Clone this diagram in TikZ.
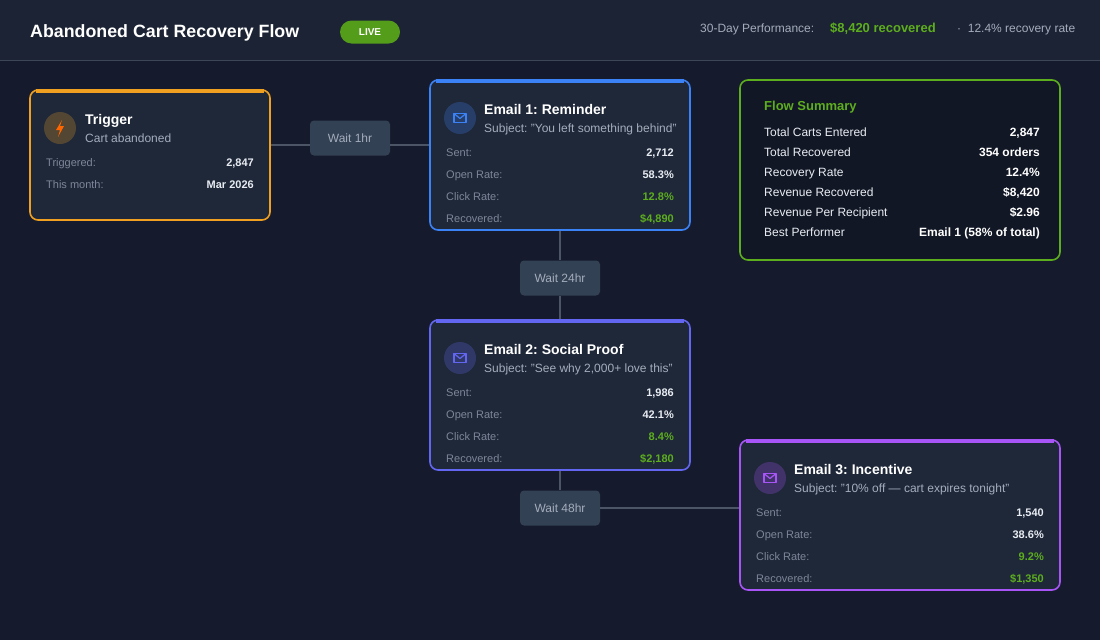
\documentclass[tikz,border=0pt]{standalone}
\usepackage{fontspec}
\setmainfont{Liberation Sans}
\definecolor{bg}{HTML}{151B2C}
\definecolor{hdr}{HTML}{1C2334}
\definecolor{card}{HTML}{1F2839}
\definecolor{lbl}{HTML}{7D8799}
\definecolor{sub}{HTML}{A4ADBC}
\definecolor{val}{HTML}{E8ECF2}
\definecolor{grn}{HTML}{5DAE1E}
\definecolor{orng}{HTML}{F0A020}
\definecolor{blu}{HTML}{3B82F6}
\definecolor{ind}{HTML}{6366F1}
\definecolor{pur}{HTML}{A855F7}
\definecolor{waitc}{HTML}{334155}
\definecolor{conn}{HTML}{4B5566}
\tikzset{
 card/.style={draw=#1,line width=1.6pt,fill=card,rounded corners=8pt},
 topbar/.style={draw=#1,line width=3.5pt},
 wait/.style={fill=waitc,rounded corners=4pt,minimum width=80pt,minimum height=35pt,text=sub,font=\fontsize{12}{14}\selectfont},
 conn/.style={draw=conn,line width=1.5pt},
 ttl/.style={anchor=base west,text=white,font=\bfseries\fontsize{14}{16}\selectfont,inner sep=0},
 sbj/.style={anchor=base west,text=sub,font=\fontsize{12}{14}\selectfont,inner sep=0},
 lb/.style={anchor=base west,text=lbl,font=\fontsize{11}{13}\selectfont,inner sep=0},
 vl/.style={anchor=base east,text=val,font=\bfseries\fontsize{11}{13}\selectfont,inner sep=0},
 vg/.style={anchor=base east,text=grn,font=\bfseries\fontsize{11}{13}\selectfont,inner sep=0},
 sl/.style={anchor=base west,text=val,font=\fontsize{12}{14}\selectfont,inner sep=0},
 sv/.style={anchor=base east,text=white,font=\bfseries\fontsize{12}{14}\selectfont,inner sep=0},
}
\newcommand\mymail[4]{% x y color name
 \fill[#3!25!card] (#1,#2) circle (16);
 \draw[#3,line width=1.2pt,line join=round] (#1-6,#2-4.5) rectangle (#1+6,#2+4.5);
 \draw[#3,line width=1.2pt,line join=round] (#1-6,#2-4.5) -- (#1,#2+0.5) -- (#1+6,#2-4.5);
 \node[inner sep=0] (#4) at (#1,#2) {};
}
\begin{document}
\frenchspacing
\begin{tikzpicture}[x=1pt,y=-1pt]
\useasboundingbox (0,0) rectangle (1100,640);
\fill[bg] (0,0) rectangle (1100,640);
\fill[hdr] (0,0) rectangle (1100,60);
\draw[conn!70!hdr,line width=1pt] (0,60.5) -- (1100,60.5);
\node[anchor=base west,text=white,font=\bfseries\fontsize{17.8}{20}\selectfont,inner sep=0] (title) at (30,37) {Abandoned Cart Recovery Flow};
\node[fill=grn!90!black,rounded corners=11.5pt,minimum width=60pt,minimum height=23pt,text=white,font=\bfseries\fontsize{10}{12}\selectfont,inner sep=0] (live) at (370,32) {LIVE};
\node[anchor=base west,text=sub,font=\fontsize{12}{14}\selectfont,inner sep=0] (perf) at (700,32) {30-Day Performance:};
\node[anchor=base west,text=grn,font=\bfseries\fontsize{13}{15}\selectfont,inner sep=0] (rec) at (830,32) {\$8,420 recovered};
\node[anchor=base west,text=sub,font=\fontsize{12}{14}\selectfont,inner sep=0] (rate) at (957,32) {·\ \ 12.4\% recovery rate};

% connectors
\node[wait] (w1) at (350,138) {Wait 1hr};
\node[wait] (w24) at (560,278) {Wait 24hr};
\node[wait] (w48) at (560,508) {Wait 48hr};
\coordinate (tR) at (270,145);
\coordinate (e1L) at (430,145);
\coordinate (e1B) at (560,230);
\coordinate (e2T) at (560,320);
\coordinate (e2B) at (560,470);
\coordinate (e3L) at (740,508);
\draw[conn] (tR) -- (w1.west |- tR);
\draw[conn] (w1.east |- e1L) -- (e1L);
\draw[conn] (e1B) -- (w24.north);
\draw[conn] (w24.south) -- (e2T);
\draw[conn] (e2B) -- (w48.north);
\draw[conn] (w48.east) -- (e3L);

% trigger
\draw[card=orng] (30,90) rectangle (270,220);
\draw[topbar=orng] (36,91) -- (264,91);
\fill[orng!25!card] (60,128) circle (16);
\fill[orange!80!red] (62,120) -- (56,130) -- (60,130) -- (58,137) -- (64,126) -- (60,126) -- cycle;
\node[ttl] (tt) at (85,124) {Trigger};
\node[sbj] (ts) at (85,142) {Cart abandoned};
\node[lb] at (46,166) {Triggered:}; \node[vl] at (254,166) {2,847};
\node[lb] at (46,188) {This month:}; \node[vl] at (254,188) {Mar 2026};

% email 1
\draw[card=blu] (430,80) rectangle (690,230);
\draw[topbar=blu] (436,81) -- (684,81);
\mymail{460}{118}{blu}{i1}
\node[ttl] at (484,114) {Email 1: Reminder};
\node[sbj] at (484,132) {Subject: "You left something behind"};
\node[lb] at (446,156) {Sent:}; \node[vl] at (674,156) {2,712};
\node[lb] at (446,178) {Open Rate:}; \node[vl] at (674,178) {58.3\%};
\node[lb] at (446,200) {Click Rate:}; \node[vg] at (674,200) {12.8\%};
\node[lb] at (446,222) {Recovered:}; \node[vg] at (674,222) {\$4,890};

% email 2
\draw[card=ind] (430,320) rectangle (690,470);
\draw[topbar=ind] (436,321) -- (684,321);
\mymail{460}{358}{ind}{i2}
\node[ttl] at (484,354) {Email 2: Social Proof};
\node[sbj] at (484,372) {Subject: "See why 2,000+ love this"};
\node[lb] at (446,396) {Sent:}; \node[vl] at (674,396) {1,986};
\node[lb] at (446,418) {Open Rate:}; \node[vl] at (674,418) {42.1\%};
\node[lb] at (446,440) {Click Rate:}; \node[vg] at (674,440) {8.4\%};
\node[lb] at (446,462) {Recovered:}; \node[vg] at (674,462) {\$2,180};

% email 3
\draw[card=pur] (740,440) rectangle (1060,590);
\draw[topbar=pur] (746,441) -- (1054,441);
\mymail{770}{478}{pur}{i3}
\node[ttl] at (794,474) {Email 3: Incentive};
\node[sbj] at (794,492) {Subject: "10\% off — cart expires tonight"};
\node[lb] at (756,516) {Sent:}; \node[vl] at (1044,516) {1,540};
\node[lb] at (756,538) {Open Rate:}; \node[vl] at (1044,538) {38.6\%};
\node[lb] at (756,560) {Click Rate:}; \node[vg] at (1044,560) {9.2\%};
\node[lb] at (756,582) {Recovered:}; \node[vg] at (1044,582) {\$1,350};

% summary
\draw[draw=grn,line width=1.6pt,fill=bg!85!black,rounded corners=8pt] (740,80) rectangle (1060,260);
\node[anchor=base west,text=grn,font=\bfseries\fontsize{13}{15}\selectfont,inner sep=0] at (764,110) {Flow Summary};
\node[sl] at (764,136) {Total Carts Entered}; \node[sv] at (1040,136) {2,847};
\node[sl] at (764,156) {Total Recovered}; \node[sv] at (1040,156) {354 orders};
\node[sl] at (764,176) {Recovery Rate}; \node[sv] at (1040,176) {12.4\%};
\node[sl] at (764,196) {Revenue Recovered}; \node[sv] at (1040,196) {\$8,420};
\node[sl] at (764,216) {Revenue Per Recipient}; \node[sv] at (1040,216) {\$2.96};
\node[sl] at (764,236) {Best Performer}; \node[sv] at (1040,236) {Email 1 (58\% of total)};
\end{tikzpicture}
\end{document}
